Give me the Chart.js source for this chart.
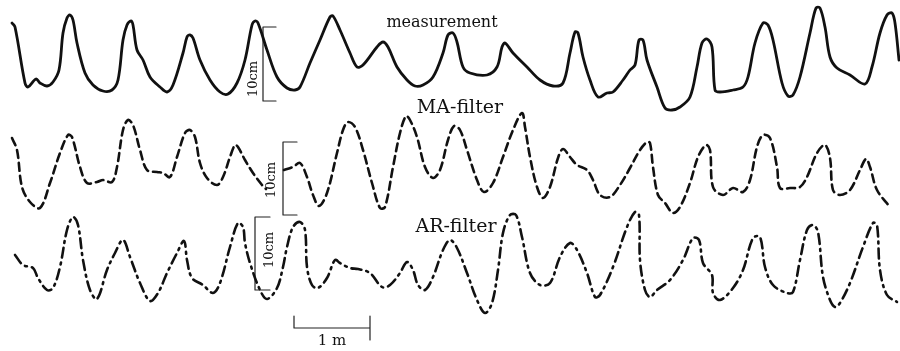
<!DOCTYPE html>
<html>
<head>
<meta charset="utf-8">
<style>
  html, body { margin: 0; padding: 0; background: #fff; }
  #wrap { width: 900px; height: 351px; }
</style>
</head>
<body>
<div id="wrap"><canvas id="myChart" width="900" height="351"></canvas></div>
<script src="https://cdn.jsdelivr.net/npm/chart.js"></script>
<script>
// values (horizontal distance, vertical displacement; figure units)
var measX = [12,15,25,28,36,40,47,53,59,63,67,70,73,77,85,93,103,112,118,123,127,131,133,137,143,150,160,167,173,183,187,190,193,200,210,220,228,237,245,252,255,258,267,277,287,295,300,
  310,320,330,333,340,350,357,363,377,383,388,397,407,415,423,433,443,448,453,457,463,470,487,497,502,505,513,527,540,553,563,570,575,578,583,590,598,
  607,613,623,630,635,639,643,647,657,665,672,680,690,697,702,707,712,715,720,733,743,748,755,763,768,773,782,788,793,800,810,816,820,825,830,837,850,865,872,880,887,892,895,899];
var measY = [23,27,83,87,79,83,86,82,70,33,18,15,20,43,73,85,91,90,80,40,25,21,25,50,60,77,87,92,85,53,37,35,38,60,80,92,94,83,60,25,21,23,50,77,88,90,87,
  63,40,17,16,30,53,67,65,47,42,47,67,80,86,85,77,53,35,33,42,67,73,75,67,47,43,53,67,80,86,83,53,32,33,57,80,97,
  93,92,80,70,65,40,40,60,87,108,110,107,97,67,43,39,47,90,92,90,87,77,43,23,25,40,83,96,95,77,33,8,8,27,57,68,75,84,67,33,15,13,23,60];

// MA trace is hidden under the "10cm" label near x = 275 (null = gap)
var maX = [12,17,22,30,40,50,60,68,72,80,87,97,103,112,117,123,128,133,140,147,157,163,170,177,185,190,195,200,207,217,223,230,235,238,245,253,262,266,275,284,293,300,
  307,313,319,327,337,343,348,355,363,372,380,385,393,400,406,410,417,425,433,440,448,454,460,467,477,484,493,503,513,522,525,530,537,543,550,558,563,570,577,587,593,
  600,610,620,630,640,647,650,653,658,665,673,680,690,698,706,710,713,723,733,743,750,757,763,770,777,780,790,800,807,817,825,830,833,840,850,860,866,870,877,890];
var maY = [138,150,187,202,208,183,153,135,137,167,183,182,180,182,167,130,120,125,150,170,172,173,177,157,133,130,137,163,178,185,177,157,145,147,160,173,185,189,null,170,167,163,
  177,195,206,193,153,130,122,127,150,183,208,207,167,133,116,120,137,167,178,170,140,126,130,150,180,192,183,157,130,113,127,157,187,198,187,158,149,157,165,170,180,
  195,197,185,168,150,142,143,167,195,203,213,207,183,157,145,150,187,195,188,192,180,147,135,138,167,188,188,187,177,153,145,158,190,195,190,170,159,167,190,207];

var arX = [15,23,33,38,47,53,60,67,73,78,83,90,97,107,115,123,130,140,150,158,167,177,184,187,192,203,213,220,230,238,243,245,250,260,267,277,283,287,293,300,
  305,307,312,318,327,335,340,350,358,370,382,390,400,407,413,418,425,433,443,450,457,467,477,485,492,498,503,510,516,522,530,540,550,560,570,577,587,595,600,
  613,627,635,639,640,645,650,657,670,683,693,699,703,712,713,720,733,743,753,760,765,773,787,793,800,807,813,818,823,830,835,840,850,863,873,877,880,887,897];
var arY = [255,265,268,278,290,288,267,230,217,225,260,290,299,270,253,240,257,283,301,293,273,253,241,260,278,285,293,283,247,223,227,243,263,290,299,288,267,247,227,222,
  230,267,285,288,278,260,263,268,269,273,287,285,273,262,270,285,290,277,250,240,248,273,300,313,303,270,233,215,215,237,273,285,283,257,243,250,273,297,295,
  267,227,212,215,260,290,297,290,280,260,238,240,263,275,293,300,288,270,238,237,267,285,293,292,260,230,225,232,277,300,307,303,283,247,223,225,270,295,302];

// scale marks: 10cm brackets and 1 m bar
var bar10Meas = [[276,27],[263,27],[263,101],[276,101]];
var bar10MA = [[297,142],[283,142],[283,215],[297,215]];
var bar10AR = [[270,217],[255,217],[255,290],[270,290]];
var bar1m = [[294,316],[294,328],[370,328],[370,316],[370,340]];

function pts(xs, ys) {
  return xs.map(function (x, i) { return { x: x, y: ys[i] }; });
}
function pairs(arr) {
  return arr.map(function (p) { return { x: p[0], y: p[1] }; });
}

var serif = '"DejaVu Serif", "Liberation Serif", serif';

var labelsPlugin = {
  id: 'figLabels',
  afterDatasetsDraw: function (chart) {
    var c = chart.ctx, xs = chart.scales.x, ys = chart.scales.y;
    function txt(s, x, y, size, rot) {
      c.save();
      c.translate(xs.getPixelForValue(x), ys.getPixelForValue(y));
      if (rot) c.rotate(rot);
      c.font = size + 'px ' + serif;
      c.fillStyle = '#111';
      c.textAlign = 'center';
      c.textBaseline = 'middle';
      c.fillText(s, 0, 0);
      c.restore();
    }
    txt('measurement', 442, 23, 16);
    txt('MA-filter', 460, 108, 19);
    txt('AR-filter', 456, 227, 19);
    txt('10cm', 254, 79, 13, -Math.PI / 2);
    txt('10cm', 272, 180, 13, -Math.PI / 2);
    txt('10cm', 270, 250, 13, -Math.PI / 2);
    txt('1 m', 332, 341, 15);
  }
};

var ctx = document.getElementById('myChart').getContext('2d');
var myChart = new Chart(ctx, {
  type: 'scatter',
  data: {
    datasets: [
      { label: 'measurement', data: pts(measX, measY), borderColor: '#111', borderWidth: 2.8, tension: 0.35 },
      { label: 'MA-filter', data: pts(maX, maY), borderColor: '#111', borderWidth: 2.6, borderDash: [8, 5], tension: 0.35 },
      { label: 'AR-filter', data: pts(arX, arY), borderColor: '#111', borderWidth: 2.6, borderDash: [10, 5, 2, 5], tension: 0.35 },
      { label: 'bar1', data: pairs(bar10Meas), borderColor: '#222', borderWidth: 1.2, tension: 0 },
      { label: 'bar2', data: pairs(bar10MA), borderColor: '#222', borderWidth: 1.2, tension: 0 },
      { label: 'bar3', data: pairs(bar10AR), borderColor: '#222', borderWidth: 1.2, tension: 0 },
      { label: 'bar4', data: pairs(bar1m), borderColor: '#222', borderWidth: 1.2, tension: 0 }
    ].map(function (d) {
      d.showLine = true;
      d.spanGaps = false;
      d.pointRadius = 0;
      d.fill = false;
      d.borderCapStyle = 'round';
      d.borderJoinStyle = 'round';
      return d;
    })
  },
  options: {
    responsive: false,
    animation: false,
    layout: { padding: 0 },
    plugins: { legend: { display: false }, tooltip: { enabled: false } },
    scales: {
      x: { type: 'linear', min: 0, max: 900, display: false },
      y: { type: 'linear', min: 0, max: 351, reverse: true, display: false }
    }
  },
  plugins: [labelsPlugin]
});
</script>
</body>
</html>
